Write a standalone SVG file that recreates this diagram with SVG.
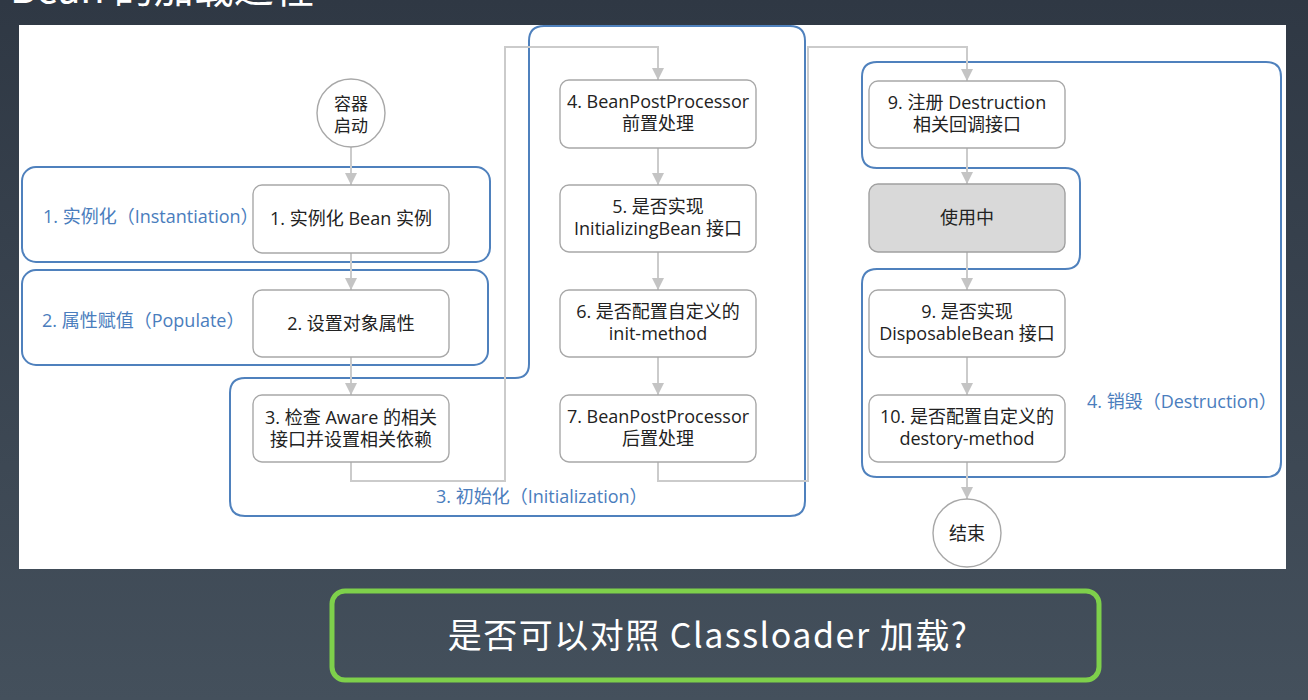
<svg xmlns="http://www.w3.org/2000/svg" width="1308" height="700" viewBox="0 0 1308 700">
  <defs>
    <linearGradient id="bg" x1="0" y1="0" x2="0" y2="1">
      <stop offset="0" stop-color="#2f3844"/>
      <stop offset="1" stop-color="#44505c"/>
    </linearGradient>
    <marker id="arr" viewBox="0 0 12 12" markerUnits="userSpaceOnUse" markerWidth="12" markerHeight="12" refX="12" refY="6" orient="auto">
      <path d="M0,0 L12,6 L0,12 z" fill="#c4c4c4"/>
    </marker>
    <style>
      .node { fill: #ffffff; stroke: #a8a8a8; stroke-width: 1.4; }
      .busy { fill: #d9d9d9; stroke: #a0a0a0; stroke-width: 1.4; }
      .grp { fill: none; stroke: #4f81bd; stroke-width: 2; }
      .conn { fill: none; stroke: #cbcbcb; stroke-width: 2; }
      .t { font-family: "Open Sans", "Noto Sans CJK SC", sans-serif; font-size: 18px; fill: #222222; text-anchor: middle; }
      .lbl { font-family: "Open Sans", "Noto Sans CJK SC", sans-serif; font-size: 18px; fill: #4a7dbd; }
    </style>
  </defs>

  <rect x="0" y="0" width="1308" height="700" fill="url(#bg)"/>
  <text x="10" y="3" font-family="'Noto Sans CJK SC', sans-serif" font-size="40" fill="#ffffff">Bean 的加载过程</text>
  <rect x="19" y="25" width="1267" height="544" fill="#ffffff"/>

  <g id="groups">
    <rect id="grp-instantiation" class="grp" x="22" y="167" width="468" height="95" rx="14"/>
    <rect id="grp-populate" class="grp" x="22" y="270" width="466" height="95" rx="14"/>
    <path id="grp-initialization" class="grp" d="M245,378 H515 Q529,378 529,364 V41 Q529,26 544,26 H790 Q805,26 805,41 V501 Q805,516 790,516 H245 Q230,516 230,501 V393 Q230,378 245,378 Z"/>
    <path id="grp-destruction" class="grp" d="M877,62 H1266 Q1281,62 1281,77 V462 Q1281,477 1266,477 H877 Q862,477 862,462 V284 Q862,269 877,269 H1065 Q1080,269 1080,254 V183 Q1080,168 1065,168 H877 Q862,168 862,153 V77 Q862,62 877,62 Z"/>
    <text class="lbl" x="43" y="223">1. 实例化（Instantiation）</text>
    <text class="lbl" x="42" y="327">2. 属性赋值（Populate）</text>
    <text class="lbl" x="436" y="503">3. 初始化（Initialization）</text>
    <text class="lbl" x="1087" y="408">4. 销毁（Destruction）</text>
  </g>

  <g id="connectors">
    <path class="conn" d="M351,147 V185" marker-end="url(#arr)"/>
    <path class="conn" d="M351,253 V290" marker-end="url(#arr)"/>
    <path class="conn" d="M351,357 V395" marker-end="url(#arr)"/>
    <path class="conn" d="M351,462 V481 H505 V47 H658 V80" marker-end="url(#arr)"/>
    <path class="conn" d="M658,148 V185" marker-end="url(#arr)"/>
    <path class="conn" d="M658,252 V290" marker-end="url(#arr)"/>
    <path class="conn" d="M658,357 V395" marker-end="url(#arr)"/>
    <path class="conn" d="M658,462 V481 H808 V47 H967 V81" marker-end="url(#arr)"/>
    <path class="conn" d="M967,148 V184" marker-end="url(#arr)"/>
    <path class="conn" d="M967,252 V290" marker-end="url(#arr)"/>
    <path class="conn" d="M967,357 V395" marker-end="url(#arr)"/>
    <path class="conn" d="M967,462 V499" marker-end="url(#arr)"/>
  </g>

  <g id="start">
    <circle class="node" cx="351" cy="113" r="34"/>
    <text class="t" x="351" y="110" style="font-size:17px">容器</text>
    <text class="t" x="351" y="132" style="font-size:17px">启动</text>
  </g>
  <g id="n1">
    <rect class="node" x="253" y="185" width="196" height="68" rx="9"/>
    <text class="t" x="351" y="225">1. 实例化 Bean 实例</text>
  </g>
  <g id="n2">
    <rect class="node" x="253" y="290" width="196" height="67" rx="9"/>
    <text class="t" x="351" y="330">2. 设置对象属性</text>
  </g>
  <g id="n3">
    <rect class="node" x="253" y="395" width="196" height="67" rx="9"/>
    <text class="t" x="351" y="424">3. 检查 Aware 的相关</text>
    <text class="t" x="351" y="446">接口并设置相关依赖</text>
  </g>
  <g id="n4">
    <rect class="node" x="560" y="80" width="196" height="68" rx="9"/>
    <text class="t" x="658" y="108">4. BeanPostProcessor</text>
    <text class="t" x="658" y="130">前置处理</text>
  </g>
  <g id="n5">
    <rect class="node" x="560" y="185" width="196" height="67" rx="9"/>
    <text class="t" x="658" y="213">5. 是否实现</text>
    <text class="t" x="658" y="235">InitializingBean 接口</text>
  </g>
  <g id="n6">
    <rect class="node" x="560" y="290" width="196" height="67" rx="9"/>
    <text class="t" x="658" y="318">6. 是否配置自定义的</text>
    <text class="t" x="658" y="340">init-method</text>
  </g>
  <g id="n7">
    <rect class="node" x="560" y="395" width="196" height="67" rx="9"/>
    <text class="t" x="658" y="423">7. BeanPostProcessor</text>
    <text class="t" x="658" y="445">后置处理</text>
  </g>
  <g id="n9a">
    <rect class="node" x="869" y="81" width="196" height="67" rx="9"/>
    <text class="t" x="967" y="109">9. 注册 Destruction</text>
    <text class="t" x="967" y="131">相关回调接口</text>
  </g>
  <g id="inuse">
    <rect class="busy" x="869" y="184" width="196" height="68" rx="9"/>
    <text class="t" x="967" y="224">使用中</text>
  </g>
  <g id="n9b">
    <rect class="node" x="869" y="290" width="196" height="67" rx="9"/>
    <text class="t" x="967" y="318">9. 是否实现</text>
    <text class="t" x="967" y="340">DisposableBean 接口</text>
  </g>
  <g id="n10">
    <rect class="node" x="869" y="395" width="196" height="67" rx="9"/>
    <text class="t" x="967" y="423">10. 是否配置自定义的</text>
    <text class="t" x="967" y="445">destory-method</text>
  </g>
  <g id="end">
    <circle class="node" cx="967" cy="533" r="34"/>
    <text class="t" x="967" y="540">结束</text>
  </g>

  <g id="question">
    <rect x="332" y="591" width="767" height="89" rx="13" fill="none" stroke="#7ed04b" stroke-width="5"/>
    <text x="708" y="648" font-family="'Noto Sans CJK SC', sans-serif" font-size="34" letter-spacing="1.5" fill="#ffffff" text-anchor="middle">是否可以对照 Classloader 加载?</text>
  </g>
</svg>
